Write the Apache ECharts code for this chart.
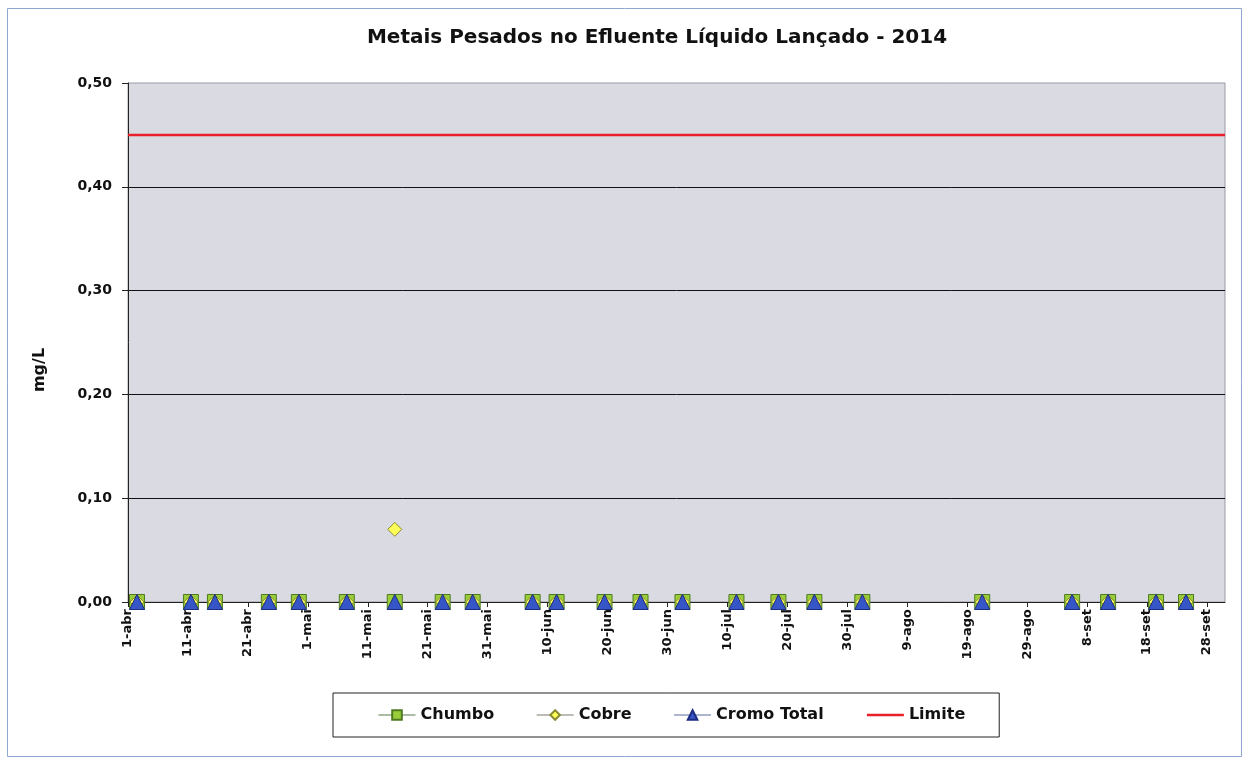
<!DOCTYPE html>
<html>
<head>
<meta charset="utf-8">
<script src="https://cdn.jsdelivr.net/npm/echarts@6/dist/echarts.min.js"></script>
<style>
html,body{margin:0;padding:0;background:#fff;}
#chart{width:1249px;height:763px;}
</style>
</head>
<body>
<div id="chart"></div>
<script>
// ---- data ----
const title = 'Metais Pesados no Efluente Líquido Lançado - 2014';
const yAxisTitle = 'mg/L';
const axisStart = '2014-04-01';
const axisEnd = '2014-10-01';
const tickLabels = ['1-abr','11-abr','21-abr','1-mai','11-mai','21-mai','31-mai','10-jun','20-jun','30-jun','10-jul','20-jul','30-jul','9-ago','19-ago','29-ago','8-set','18-set','28-set'];
const sampleDates = ['2014-04-02','2014-04-11','2014-04-15','2014-04-24','2014-04-29','2014-05-07','2014-05-15','2014-05-23','2014-05-28','2014-06-07','2014-06-11','2014-06-19','2014-06-25','2014-07-02','2014-07-11','2014-07-18','2014-07-24','2014-08-01','2014-08-21','2014-09-05','2014-09-11','2014-09-19','2014-09-24'];
const chumbo = [0,0,0,0,0,0,0,0,0,0,0,0,0,0,0,0,0,0,0,0,0,0,0];
const cobre  = [0,0,0,0,0,0,0.07,0,0,0,0,0,0,0,0,0,0,0,0,0,0,0,0];
const cromoTotal = [0,0,0,0,0,0,0,0,0,0,0,0,0,0,0,0,0,0,0,0,0,0,0];
const limite = 0.45;
const yMin = 0, yMax = 0.5, yStep = 0.1;

// ---- helpers ----
const monthIdx = {jan:0,fev:1,mar:2,abr:3,mai:4,jun:5,jul:6,ago:7,set:8,out:9,nov:10,dez:11};
const DAY = 86400000;
function isoDay(s){ const p = s.split('-'); return Date.UTC(+p[0], +p[1]-1, +p[2]); }
const t0 = isoDay(axisStart);
function dayOf(s){ return Math.round((isoDay(s) - t0) / DAY); }
function labelDay(l){ const p = l.split('-'); return Math.round((Date.UTC(2014, monthIdx[p[1]], +p[0]) - t0) / DAY); }
const tickDays = tickLabels.map(labelDay);
const xMax = dayOf(axisEnd);
// Excel date axis places each date in the middle of its day slot
const xs = sampleDates.map(d => dayOf(d) + 0.5);
const pts = arr => arr.map((v, i) => [xs[i], v]);

const FONT = '"DejaVu Sans", sans-serif';
const chart = echarts.init(document.getElementById('chart'));
chart.setOption({
  animation: false,
  backgroundColor: '#ffffff',
  title: {
    text: title, left: 652, top: 23, textAlign: 'center',
    textStyle: {fontFamily: FONT, fontSize: 20, fontWeight: 'bold', color: '#111'}
  },
  graphic: [
    {
      type: 'rect', silent: true,
      shape: {x: 7.5, y: 8.5, width: 1234, height: 748},
      style: {fill: 'none', stroke: '#8fa8d0', lineWidth: 1}
    },
    {
      type: 'text', silent: true, x: 40, y: 370, rotation: Math.PI / 2,
      style: {text: yAxisTitle, font: 'bold 16px "DejaVu Sans", sans-serif', fill: '#111', align: 'center', verticalAlign: 'middle'}
    }
  ],
  grid: {
    left: 128, right: 24, top: 83, bottom: 161,
    show: true, backgroundColor: '#dadae3', borderColor: '#9a9aa4', borderWidth: 1
  },
  legend: {
    left: 333, top: 693,
    padding: [14, 34, 14, 45],
    itemGap: 42, itemWidth: 37, itemHeight: 12,
    borderColor: '#222', borderWidth: 1,
    textStyle: {fontFamily: FONT, fontSize: 16, fontWeight: 'bold', color: '#111'},
    data: [
      {name: 'Chumbo', lineStyle: {color: '#5a7a4a', width: 1, opacity: 1}},
      {name: 'Cobre', lineStyle: {color: '#7a7a6a', width: 1, opacity: 1}},
      {name: 'Cromo Total', lineStyle: {color: '#5a6aa0', width: 1, opacity: 1}},
      {name: 'Limite', itemStyle: {opacity: 0}, lineStyle: {color: '#e8202a', width: 2.5, opacity: 1}}
    ]
  },
  xAxis: {
    type: 'value', min: 0, max: xMax,
    axisLine: {lineStyle: {color: '#222', width: 1}},
    axisTick: {show: true, customValues: tickDays, length: 5, lineStyle: {color: '#222'}},
    axisLabel: {
      customValues: tickDays, rotate: 90, margin: 7,
      fontFamily: FONT, fontSize: 13, fontWeight: 'bold', color: '#111',
      formatter: v => tickLabels[tickDays.indexOf(Math.round(v))] || ''
    },
    splitLine: {show: false}
  },
  yAxis: {
    type: 'value', min: yMin, max: yMax, interval: yStep,
    axisLine: {show: true, lineStyle: {color: '#222', width: 1}},
    axisTick: {show: true, length: 6, lineStyle: {color: '#222'}},
    axisLabel: {
      margin: 16, fontFamily: FONT, fontSize: 14, fontWeight: 'bold', color: '#111',
      formatter: v => v.toFixed(2).replace('.', ',')
    },
    splitLine: {show: true, showMinLine: false, showMaxLine: false, lineStyle: {color: '#111', width: 1}}
  },
  series: [
    {
      name: 'Chumbo', type: 'line', data: pts(chumbo),
      symbol: 'rect', symbolSize: 15, showAllSymbol: true, clip: false,
      lineStyle: {opacity: 0, width: 0},
      itemStyle: {color: '#9acd3a', borderColor: '#4f7a22', borderWidth: 1},
      z: 3
    },
    {
      name: 'Cobre', type: 'line', data: pts(cobre),
      symbol: 'diamond', symbolSize: 14, showAllSymbol: true, clip: false,
      lineStyle: {opacity: 0, width: 0},
      itemStyle: {color: '#ffff5a', borderColor: '#8a8a30', borderWidth: 1},
      z: 4
    },
    {
      name: 'Cromo Total', type: 'line', data: pts(cromoTotal),
      symbol: 'triangle', symbolSize: 15, showAllSymbol: true, clip: false,
      lineStyle: {opacity: 0, width: 0},
      itemStyle: {color: '#3656c8', borderColor: '#1c2c80', borderWidth: 1},
      z: 5
    },
    {
      name: 'Limite', type: 'line', data: [[0, limite], [xMax, limite]],
      symbol: 'none', lineStyle: {color: '#e8202a', width: 2.5},
      itemStyle: {color: '#e8202a'},
      z: 2
    }
  ]
});
</script>
</body>
</html>
